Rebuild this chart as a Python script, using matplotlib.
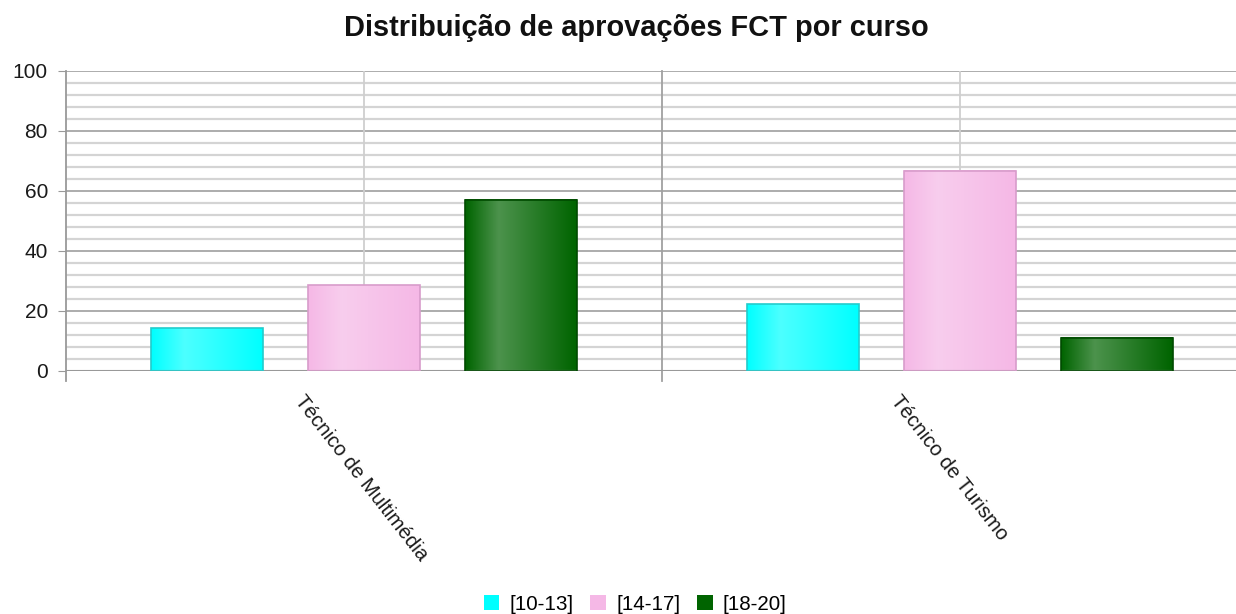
import numpy as np
import matplotlib.pyplot as plt
from matplotlib.patches import Patch
from matplotlib.colors import to_rgb

plt.rcParams['font.family'] = ['Liberation Sans', 'DejaVu Sans']

cursos = ['Técnico de Multimédia', 'Técnico de Turismo']
series = ['[10-13]', '[14-17]', '[18-20]']
v_10_13 = [14.29, 22.22]
v_14_17 = [28.57, 66.67]
v_18_20 = [57.14, 11.11]
valores = [v_10_13, v_14_17, v_18_20]

cores = ['#00ffff', '#f5b8e6', '#006400']
bordas = ['#22cccc', '#d89ccb', '#004a00']

fig = plt.figure(figsize=(12.36, 6.14), dpi=100)
ax = fig.add_axes([66/1236, 243/614, 1192/1236, 300/614])

ax.set_xlim(-0.5, len(cursos) - 0.5)
ax.set_ylim(0, 100)

# grelha
for y in np.arange(4, 100, 4):
    if y % 20:
        ax.axhline(y, color='#d4d4d4', lw=1.6, zorder=0)
for y in range(20, 101, 20):
    ax.axhline(y, color='#a6a6a6', lw=1.3, zorder=0)
for i in range(len(cursos)):
    ax.axvline(i, color='#cfcfcf', lw=1.3, zorder=0)
ax.plot([0.5, 0.5], [-3.3, 100], color='#a0a0a0', lw=1.3, clip_on=False, zorder=1)
ax.axhline(0, color='#999999', lw=1.5, zorder=3)

w = 112/596
step = 157/596


def grad(cor):
    base = np.array(to_rgb(cor))
    claro = base + (1 - base) * 0.3
    t = np.linspace(0, 1, 100)
    f = np.clip(1 - np.abs(t - 0.3) / 0.3, 0, 1)
    f = np.where(t > 0.3, np.clip(1 - (t - 0.3) / 0.7, 0, 1), f)
    img = base[None, :] * (1 - f[:, None]) + claro[None, :] * f[:, None]
    return img[None, :, :]


for s, (vals, cor, borda) in enumerate(zip(valores, cores, bordas)):
    for i, v in enumerate(vals):
        x0 = i + (s - 1) * step - w/2
        ax.imshow(grad(cor), extent=(x0, x0 + w, 0, v), aspect='auto', zorder=2,
                  interpolation='bilinear')
        ax.bar(x0, v, width=w, align='edge', facecolor='none', edgecolor=borda,
               lw=1.2, zorder=3)

ax.set_xlim(-0.5, len(cursos) - 0.5)
ax.set_ylim(0, 100)

for sp in ['top', 'right', 'bottom']:
    ax.spines[sp].set_visible(False)
ax.spines['left'].set_color('#999999')
ax.spines['left'].set_linewidth(1.3)
ax.spines['left'].set_bounds(-3.3, 100)

ax.set_yticks(range(0, 101, 20))
ax.tick_params(axis='y', length=6, color='#999999', labelsize=15, pad=7,
               labelcolor='#1a1a1a')
ax.set_xticks([])

for i, c in enumerate(cursos):
    ax.text(i - 0.11, -8.8, c, rotation=-52, rotation_mode='anchor', ha='left',
            va='center', fontsize=14.7, color='#1a1a1a')

fig.suptitle('Distribuição de aprovações FCT por curso', x=0.515, y=0.978,
             fontsize=20.9, fontweight='bold', color='#111111')

handles = [Patch(facecolor=c, edgecolor='none') for c in cores]
fig.legend(handles, series, loc='lower center', bbox_to_anchor=(0.514, -0.03),
           ncol=3, frameon=False, fontsize=14.9, handlelength=0.75, handleheight=0.75,
           handletextpad=0.5, columnspacing=0.8)

fig.savefig('out.png', dpi=100)
